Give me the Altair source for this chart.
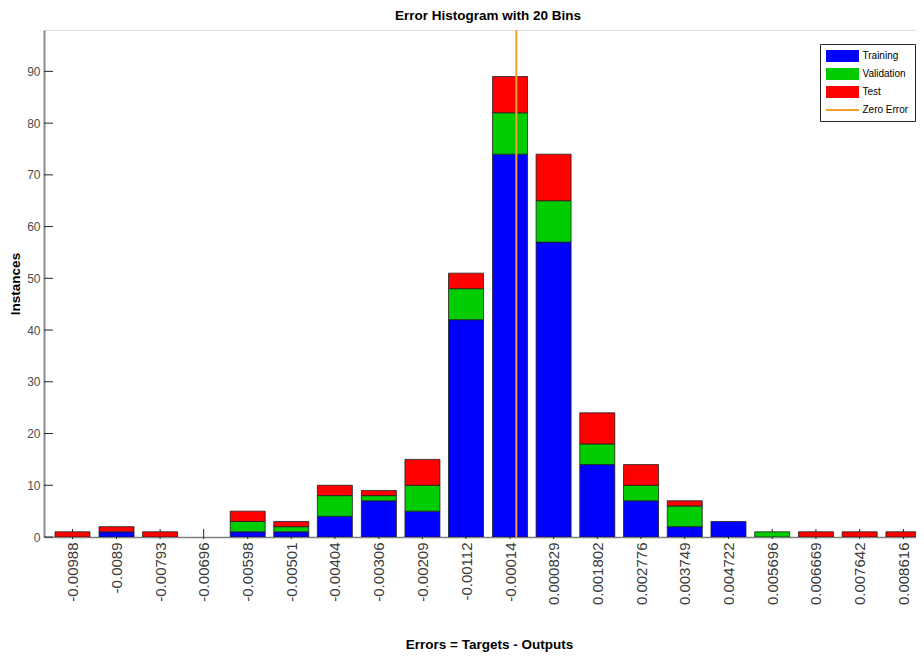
import altair as alt
import pandas as pd

# ---- data ----
bin_labels = ["-0.00988", "-0.0089", "-0.00793", "-0.00696", "-0.00598",
              "-0.00501", "-0.00404", "-0.00306", "-0.00209", "-0.00112",
              "-0.00014", "0.000829", "0.001802", "0.002776", "0.003749",
              "0.004722", "0.005696", "0.006669", "0.007642", "0.008616"]
training   = [0, 1, 0, 0, 1, 1, 4, 7, 5, 42, 74, 57, 14, 7, 2, 3, 0, 0, 0, 0]
validation = [0, 0, 0, 0, 2, 1, 4, 1, 5, 6, 8, 8, 4, 3, 4, 0, 1, 0, 0, 0]
test       = [1, 1, 1, 0, 2, 1, 2, 1, 5, 3, 7, 9, 6, 4, 1, 0, 0, 1, 1, 1]
y_tick_values = [0, 10, 20, 30, 40, 50, 60, 70, 80, 90]
zero_error = [0.0]

series_names = ["Training", "Validation", "Test", "Zero Error"]
series_colors = ["#0000ff", "#00cc00", "#ff0000", "#f2a12e"]
patch = "M-2.75,-1H2.75V1H-2.75Z"
thin_line = "M-2.75,-0.17H2.75V0.17H-2.75Z"
series_shapes = [patch, patch, patch, thin_line]

centers = [float(s) for s in bin_labels]

rows = []
for k, (name, vals) in enumerate(zip(series_names[:3], [training, validation, test])):
    for c, v in zip(centers, vals):
        if v > 0:
            rows.append({"center": c, "count": v, "series": name, "ord": k})
bars_df = pd.DataFrame(rows)
xtick_df = pd.DataFrame({"center": centers})
ytick_df = pd.DataFrame({"count": y_tick_values})
zero_df = pd.DataFrame({"center": zero_error, "series": ["Zero Error"]})
legend_df = pd.DataFrame({"series": series_names})

TOTAL_W, TOTAL_H = 908, 644
FONT = "Liberation Sans"

x_scale = alt.Scale(domain=[-0.010403, 0.008785], nice=False, zero=False)
y_scale = alt.Scale(domain=[0, 98], nice=False, zero=True)
color_scale = alt.Scale(domain=series_names, range=series_colors)
shape_scale = alt.Scale(domain=series_names, range=series_shapes)

legend = alt.Legend(
    title=None, orient="none", legendX=776, legendY=14, direction="vertical",
    symbolSize=144, symbolOffset=10.5, labelOffset=14, rowPadding=6,
    labelFont=FONT, labelFontSize=10, labelColor="#000000",
    strokeColor="#262626", fillColor="white", padding=6,
    symbolStrokeWidth=0, symbolOpacity=1,
)

x_axis = alt.Axis(
    values=centers, labelExpr="toString(datum.value)", labelAngle=270,
    labelFont=FONT, labelFontSize=15, labelColor="#3a3a3a", labelPadding=5,
    tickSize=0, grid=False, domainColor="#808080", domainWidth=1.5,
    title="Errors = Targets - Outputs", titleFont=FONT, titleFontSize=13.5,
    titleFontWeight="bold", titleColor="#000000", titlePadding=33, titleX=445,
    labelOverlap=False, labelFlush=False,
)
y_axis = alt.Axis(
    values=y_tick_values, labelFont=FONT, labelFontSize=12, labelColor="#4d4d4d",
    labelPadding=4, tickSize=0, grid=False, domainColor="#8c8c8c", domainWidth=2,
    title="Instances", titleFont=FONT, titleFontSize=13.5, titleFontWeight="bold",
    titleColor="#000000", titlePadding=4,
)

xticks = alt.Chart(xtick_df).mark_rule(color="#262626", strokeWidth=1).encode(
    x=alt.X("center:Q", scale=x_scale, axis=x_axis),
    y=alt.value(509), y2=alt.value(499),
)
yticks = alt.Chart(ytick_df).mark_rule(color="#262626", strokeWidth=1).encode(
    y=alt.Y("count:Q", scale=y_scale, axis=y_axis),
    x=alt.value(0), x2=alt.value(9),
)
bars = alt.Chart(bars_df).mark_bar(
    width=35, stroke="#1f1f1f", strokeWidth=0.8, clip=True
).encode(
    x=alt.X("center:Q", scale=x_scale, axis=x_axis),
    y=alt.Y("count:Q", stack="zero", scale=y_scale, axis=y_axis),
    color=alt.Color("series:N", scale=color_scale, legend=legend),
    order=alt.Order("ord:Q"),
)
zero_line = alt.Chart(zero_df).mark_rule(strokeWidth=2).encode(
    x=alt.X("center:Q", scale=x_scale, axis=x_axis),
    color=alt.Color("series:N", scale=color_scale, legend=legend),
)
# carrier of the legend symbols (invisible points)
legend_carrier = alt.Chart(legend_df).mark_point(filled=True, opacity=0, size=0).encode(
    color=alt.Color("series:N", scale=color_scale, legend=legend),
    shape=alt.Shape("series:N", scale=shape_scale, legend=legend),
)

chart = alt.layer(xticks, yticks, bars, zero_line, legend_carrier).properties(
    width=TOTAL_W, height=TOTAL_H, padding=0,
    autosize=alt.AutoSizeParams(type="fit", contains="padding"),
    title=alt.Title("Error Histogram with 20 Bins", font=FONT, fontSize=13.5,
                    fontWeight="bold", color="#000000", offset=7, dx=8),
).configure_view(stroke=None).configure(background="white")

chart.save("out.html", embed_options={"renderer": "svg", "actions": False})
